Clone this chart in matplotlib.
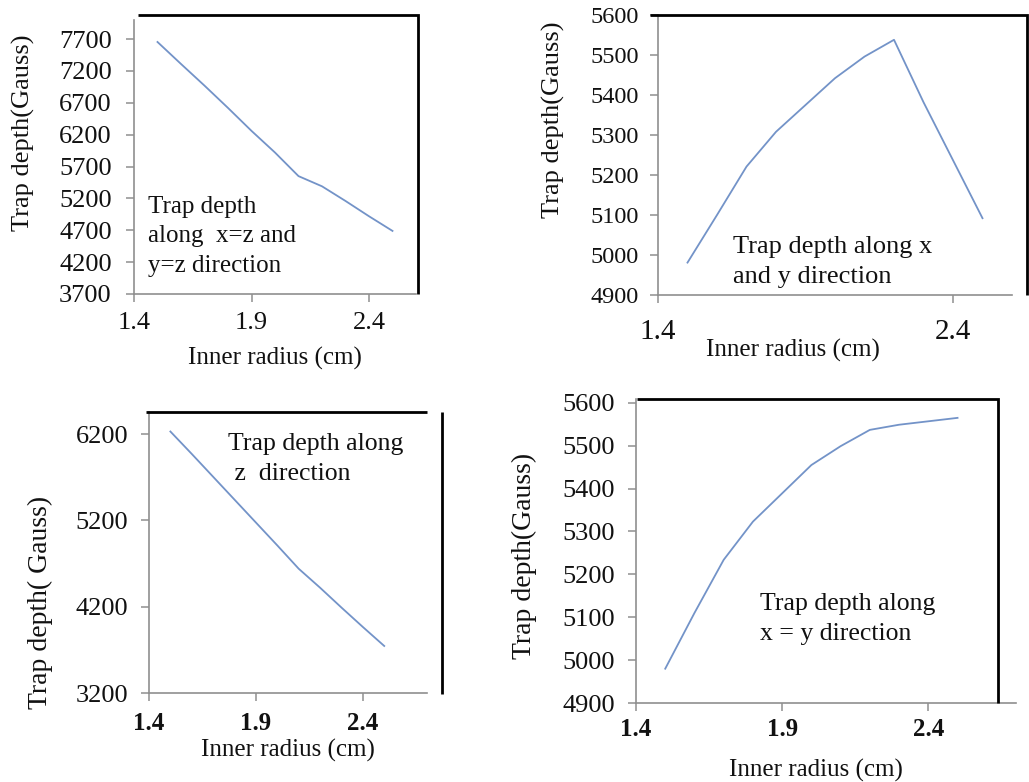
import matplotlib
matplotlib.use("Agg")
import matplotlib.pyplot as plt
from matplotlib.lines import Line2D

plt.rcParams['font.family'] = ['Liberation Serif', 'DejaVu Serif']

W, H = 1029, 782

# ---------------- data ----------------
radius = [1.5, 1.6, 1.7, 1.8, 1.9, 2.0, 2.1, 2.2, 2.3, 2.4, 2.5]
depth_xz_yz = [7655, 7310, 6970, 6620, 6260, 5920, 5550, 5390, 5160, 4920, 4690]
depth_x_y = [4981, 5100, 5221, 5308, 5375, 5442, 5496, 5538, 5382, 5237, 5092]
depth_z = [6230, 5970, 5705, 5440, 5175, 4910, 4640, 4420, 4190, 3965, 3745]
depth_xeqy = [4980, 5110, 5234, 5323, 5389, 5455, 5499, 5537, 5549, 5557, 5565]

xticks_full = [1.4, 1.9, 2.4]
xticks_sparse = [1.4, 2.4]
yticks_p1 = [3700, 4200, 4700, 5200, 5700, 6200, 6700, 7200, 7700]
yticks_p2 = [4900, 5000, 5100, 5200, 5300, 5400, 5500, 5600]
yticks_p3 = [3200, 4200, 5200, 6200]
yticks_p4 = [4900, 5000, 5100, 5200, 5300, 5400, 5500, 5600]

xlabel = "Inner radius (cm)"
ylabel_a = "Trap depth(Gauss)"
ylabel_b = "Trap depth( Gauss)"

notes_p1 = ["Trap depth", "along  x=z and", "y=z direction"]
notes_p2 = ["Trap depth along x", "and y direction"]
notes_p3 = ["Trap depth along", " z  direction"]
notes_p4 = ["Trap depth along", "x = y direction"]

LINE_C = '#7393c8'
SPINE_C = '#8f8f8f'

fig = plt.figure(figsize=(W / 100, H / 100), dpi=100)
fig.patch.set_facecolor('white')


def fx(px):
    return px / W


def fy(py):
    return 1 - py / H


def make_axes(left, right, top, bottom):
    ax = fig.add_axes([fx(left), fy(bottom), (right - left) / W, (bottom - top) / H])
    ax.patch.set_alpha(0)
    for s in ['top', 'right']:
        ax.spines[s].set_visible(False)
    for s in ['left', 'bottom']:
        ax.spines[s].set_color(SPINE_C)
        ax.spines[s].set_linewidth(1.2)
    ax.tick_params(direction='out', length=6, width=1.1, color=SPINE_C, labelcolor='#111111')
    return ax


def border(points):
    xs = [fx(p[0]) for p in points]
    ys = [fy(p[1]) for p in points]
    fig.add_artist(Line2D(xs, ys, transform=fig.transFigure, color='black', lw=2.0,
                          solid_capstyle='butt', solid_joinstyle='miter'))


def notes(lines, x, baselines, size=18):
    for t, b in zip(lines, baselines):
        fig.text(fx(x), fy(b), t, fontsize=size, ha='left', va='baseline', color='#111111')


def labels(ax, xl_pos, yl_text, yl_pos, xl_size=18, yl_size=19):
    ax.set_xlabel(xlabel, fontsize=xl_size, color='#111111')
    ax.xaxis.label.set_va('center')
    ax.xaxis.set_label_coords(fx(xl_pos[0]), fy(xl_pos[1]), transform=fig.transFigure)
    ax.set_ylabel(yl_text, fontsize=yl_size, color='#111111')
    ax.yaxis.label.set_va('center')
    ax.yaxis.set_label_coords(fx(yl_pos[0]), fy(yl_pos[1]), transform=fig.transFigure)


# ---------------- panel 1 (top-left) ----------------
ax1 = make_axes(134, 416, 20, 294)
ax1.plot(radius, depth_xz_yz, color=LINE_C, lw=1.3)
ax1.set_xlim(1.4, 2.6)
ax1.set_ylim(3700, 8000)
ax1.set_xticks(xticks_full)
ax1.set_xticklabels([f"{v:.1f}" for v in xticks_full], fontsize=19)
ax1.set_yticks(yticks_p1)
ax1.set_yticklabels([str(v) for v in yticks_p1], fontsize=19)
ax1.tick_params(axis='x', pad=7)
ax1.tick_params(axis='y', pad=10)
labels(ax1, (275, 358), ylabel_a, (23, 133), yl_size=19)
border([(138, 15), (418, 15), (418, 294)])
notes(notes_p1, 148, [213, 242, 272])

# ---------------- panel 2 (top-right) ----------------
ax2 = make_axes(658, 1012, 15, 295)
ax2.plot(radius, depth_x_y, color=LINE_C, lw=1.3)
ax2.set_xlim(1.4, 2.6)
ax2.set_ylim(4900, 5600)
ax2.set_xticks(xticks_sparse)
ax2.set_xticklabels([f"{v:.1f}" for v in xticks_sparse], fontsize=21)
ax2.set_yticks(yticks_p2)
ax2.set_yticklabels([str(v) for v in yticks_p2], fontsize=17.5)
ax2.tick_params(axis='x', pad=11)
ax2.tick_params(axis='y', pad=8)
labels(ax2, (793, 350), ylabel_a, (553, 120), yl_size=19)
border([(650, 15), (1027, 15), (1027, 295)])
notes(notes_p2, 733, [253, 283], size=19)

# ---------------- panel 3 (bottom-left) ----------------
ax3 = make_axes(149, 427, 412, 693)
ax3.plot(radius, depth_z, color=LINE_C, lw=1.3)
ax3.set_xlim(1.4, 2.7)
ax3.set_ylim(3200, 6456)
ax3.set_xticks(xticks_full)
ax3.set_xticklabels([f"{v:.1f}" for v in xticks_full], fontsize=18, fontweight='bold')
ax3.set_yticks(yticks_p3)
ax3.set_yticklabels([str(v) for v in yticks_p3], fontsize=19)
ax3.tick_params(axis='x', pad=8)
ax3.tick_params(axis='y', pad=9)
labels(ax3, (288, 750), ylabel_b, (40, 602), yl_size=20)
border([(146, 412), (427, 412)])
border([(442, 412), (442, 694)])
notes(notes_p3, 228, [450, 480], size=18.5)

# ---------------- panel 4 (bottom-right) ----------------
ax4 = make_axes(636, 1016, 399, 703)
ax4.plot(radius, depth_xeqy, color=LINE_C, lw=1.3)
ax4.set_xlim(1.4, 2.7)
ax4.set_ylim(4900, 5609)
ax4.set_xticks(xticks_full)
ax4.set_xticklabels([f"{v:.1f}" for v in xticks_full], fontsize=18, fontweight='bold')
ax4.set_yticks(yticks_p4)
ax4.set_yticklabels([str(v) for v in yticks_p4], fontsize=19)
ax4.tick_params(axis='x', pad=5)
ax4.tick_params(axis='y', pad=9)
labels(ax4, (816, 770), ylabel_a, (524, 556), yl_size=20)
border([(637, 399), (998, 399), (998, 703)])
notes(notes_p4, 760, [610, 640], size=18.5)

fig.savefig("out.png", dpi=100, facecolor='white')
